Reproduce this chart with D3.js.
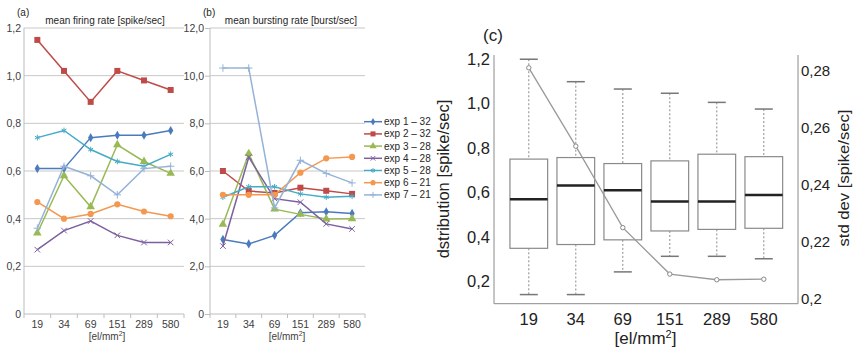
<!DOCTYPE html>
<html>
<head>
<meta charset="utf-8">
<script src="https://cdn.jsdelivr.net/npm/d3@7"></script>
<style>
  body { margin: 0; background: #fff; }
  svg { display: block; font-family: "Liberation Sans", Arial, sans-serif; }
</style>
</head>
<body>
<div id="chart"></div>
<script>
// categories (electrode density)
const categories = ["19", "34", "69", "151", "289", "580"];
const seriesNames = ["exp 1 – 32", "exp 2 – 32", "exp 3 – 28", "exp 4 – 28", "exp 5 – 28", "exp 6 – 21", "exp 7 – 21"];
const seriesColors = ["#4A7BBE", "#BE4B48", "#98B954", "#7D60A0", "#46AAC5", "#F4974F", "#95B3D7"];

// (a) mean firing rate [spike/sec]
const firingExp1 = [0.61, 0.61, 0.74, 0.75, 0.75, 0.77];
const firingExp2 = [1.15, 1.02, 0.89, 1.02, 0.98, 0.94];
const firingExp3 = [0.34, 0.58, 0.45, 0.71, 0.64, 0.59];
const firingExp4 = [0.27, 0.35, 0.39, 0.33, 0.30, 0.30];
const firingExp5 = [0.74, 0.77, 0.69, 0.64, 0.62, 0.67];
const firingExp6 = [0.47, 0.40, 0.42, 0.46, 0.43, 0.41];
const firingExp7 = [0.36, 0.62, 0.58, 0.50, 0.61, 0.62];

// (b) mean bursting rate [burst/sec]
const burstExp1 = [3.13, 2.94, 3.30, 4.25, 4.29, 4.22];
const burstExp2 = [6.00, 5.16, 5.08, 5.30, 5.17, 5.04];
const burstExp3 = [3.76, 6.73, 4.40, 4.18, 3.99, 4.00];
const burstExp4 = [2.85, 6.58, 4.84, 4.69, 3.78, 3.57];
const burstExp5 = [4.90, 5.34, 5.34, 5.04, 4.90, 4.94];
const burstExp6 = [5.00, 5.00, 5.00, 5.93, 6.53, 6.59];
const burstExp7 = [10.32, 10.32, 4.45, 6.45, 5.90, 5.50];

const firingTicks = [0, 0.2, 0.4, 0.6, 0.8, 1.0, 1.2];
const burstTicks = [0, 2, 4, 6, 8, 10, 12];

// (c) distribution boxplots + std dev
const boxHigh = [1.199, 1.098, 1.065, 1.046, 1.005, 0.975];
const boxQ3 = [0.750, 0.757, 0.730, 0.742, 0.772, 0.761];
const boxMedian = [0.569, 0.631, 0.610, 0.559, 0.559, 0.589];
const boxQ1 = [0.349, 0.366, 0.387, 0.427, 0.434, 0.439];
const boxLow = [0.141, 0.141, 0.243, 0.313, 0.313, 0.302];
const stdDev = [0.2809, 0.2534, 0.2248, 0.2085, 0.2065, 0.2067];
const distTicks = [0.2, 0.4, 0.6, 0.8, 1.0, 1.2];
const stdTicks = [0.2, 0.22, 0.24, 0.26, 0.28];

const firing = [firingExp1, firingExp2, firingExp3, firingExp4, firingExp5, firingExp6, firingExp7];
const burst = [burstExp1, burstExp2, burstExp3, burstExp4, burstExp5, burstExp6, burstExp7];

const W = 855, H = 348;
const svg = d3.select("#chart").append("svg").attr("width", W).attr("height", H);

const comma = (f) => (d) => d === 0 ? "0" : d3.format(f)(d).replace(".", ",");

const symbolTypes = [d3.symbolDiamond, d3.symbolSquare, d3.symbolTriangle, d3.symbolX,
  d3.symbolAsterisk, d3.symbolCircle, d3.symbolPlus];
const symbolSizes = [24, 36, 32, 22, 22, 30, 20];
const strokeOnly = [false, false, false, true, true, false, true];

function linePanel(opt) {
  const x = d3.scaleBand().domain(categories).range([opt.x0, opt.x1]);
  const y = d3.scaleLinear().domain(opt.domain).range([314, 28]);
  const cx = (c) => x(c) + x.bandwidth() / 2;
  const g = svg.append("g");

  // gridlines
  g.append("g").selectAll("line").data(opt.ticks.slice(1)).join("line")
    .attr("x1", opt.x0).attr("x2", opt.x1)
    .attr("y1", d => y(d)).attr("y2", d => y(d))
    .attr("stroke", "#c8c8c8").attr("stroke-width", 1);

  const yAxis = g.append("g").attr("transform", `translate(${opt.x0},0)`)
    .call(d3.axisLeft(y).tickValues(opt.ticks).tickSize(opt.tick).tickPadding(opt.pad).tickFormat(comma(opt.fmt)));
  yAxis.select(".domain").attr("stroke", "#bdbdbd").attr("d", `M0,${y(0)}V${y(opt.domain[1])}`);
  yAxis.selectAll(".tick line").attr("stroke", "#bdbdbd");
  yAxis.selectAll("text").attr("font-size", 10.5).attr("fill", "#404040");

  const xAxis = g.append("g").attr("transform", "translate(0,314)");
  xAxis.append("line").attr("x1", opt.x0).attr("x2", opt.x1).attr("stroke", "#bdbdbd");
  xAxis.selectAll("line.tk").data(categories.concat(["end"])).join("line").attr("class", "tk")
    .attr("x1", (d, i) => i < categories.length ? x(d) : opt.x1)
    .attr("x2", (d, i) => i < categories.length ? x(d) : opt.x1)
    .attr("y1", 0).attr("y2", 4).attr("stroke", "#bdbdbd");
  xAxis.selectAll("text").data(categories).join("text")
    .attr("x", d => cx(d)).attr("y", 14).attr("text-anchor", "middle")
    .attr("font-size", 10.5).attr("fill", "#404040").text(d => d);

  const lab = g.append("text").attr("x", opt.labelX).attr("y", 339.5)
    .attr("text-anchor", "middle").attr("font-size", 10).attr("fill", "#404040");
  lab.append("tspan").text("[el/mm");
  lab.append("tspan").attr("font-size", 7).attr("dy", -4).text("2");
  lab.append("tspan").attr("dy", 4).text("]");

  g.append("text").attr("x", opt.titleX).attr("y", 24).attr("text-anchor", "middle")
    .attr("font-size", 10).attr("fill", "#262626").text(opt.title);
  g.append("text").attr("x", opt.tagX).attr("y", 15.5)
    .attr("font-size", 10).attr("fill", "#262626").text(opt.tag);

  const line = d3.line().x((d, i) => cx(categories[i])).y(d => y(d));
  opt.data.forEach((vals, s) => {
    const sg = g.append("g");
    sg.append("path").attr("d", line(vals)).attr("fill", "none")
      .attr("stroke", seriesColors[s]).attr("stroke-width", 1.5);
    sg.selectAll("path.m").data(vals).join("path").attr("class", "m")
      .attr("transform", (d, i) => `translate(${cx(categories[i])},${y(d)})`)
      .attr("d", d3.symbol().type(symbolTypes[s]).size(symbolSizes[s]))
      .attr("fill", strokeOnly[s] ? "none" : seriesColors[s])
      .attr("stroke", seriesColors[s]).attr("stroke-width", strokeOnly[s] ? 1 : 0);
  });
}

linePanel({ x0: 24, x1: 184, domain: [0, 1.2], ticks: firingTicks, fmt: ".1f", tick: 0, pad: 3,
  data: firing, title: "mean firing rate [spike/sec]", titleX: 105, tag: "(a)", tagX: 17, labelX: 107 });
linePanel({ x0: 210, x1: 365, domain: [0, 12], ticks: burstTicks, fmt: ".1f", tick: 5, pad: 1,
  data: burst, title: "mean bursting rate [burst/sec]", titleX: 291, tag: "(b)", tagX: 203, labelX: 287 });

// legend
const legend = svg.append("g").selectAll("g").data(seriesNames).join("g")
  .attr("transform", (d, i) => `translate(0,${121.7 + i * 12.2})`);
legend.append("line").attr("x1", 364).attr("x2", 382)
  .attr("stroke", (d, i) => seriesColors[i]).attr("stroke-width", 1.5);
legend.append("path").attr("transform", "translate(373,0)")
  .attr("d", (d, i) => d3.symbol().type(symbolTypes[i]).size(symbolSizes[i] * 0.7)())
  .attr("fill", (d, i) => strokeOnly[i] ? "none" : seriesColors[i])
  .attr("stroke", (d, i) => seriesColors[i]).attr("stroke-width", (d, i) => strokeOnly[i] ? 1 : 0);
legend.append("text").attr("x", 384).attr("y", 3.5).attr("font-size", 10)
  .attr("fill", "#262626").text(d => d);

// panel (c)
const xc = d3.scalePoint().domain(categories).range([528.8, 763.8]);
const yc = d3.scaleLinear().domain([0.1, 1.218]).range([303.7, 55]);
const ys = d3.scaleLinear().domain([0.1981, 0.2854]).range([303.7, 55]);
const gc = svg.append("g");
const axisColor = "#8a8a8a";
const boxW = 37.7;

const leftAx = gc.append("g").attr("transform", "translate(494,0)")
  .call(d3.axisLeft(yc).tickValues(distTicks).tickSize(0).tickPadding(4).tickFormat(comma(".1f")));
leftAx.select(".domain").attr("stroke", axisColor).attr("d", "M0,55V303.7");
leftAx.selectAll("text").attr("font-size", 16.5).attr("fill", "#222");

const rightAx = gc.append("g").attr("transform", "translate(798,0)")
  .call(d3.axisRight(ys).tickValues(stdTicks).tickSize(0).tickPadding(3)
    .tickFormat(d => d === 0.2 ? "0,2" : d3.format(".2f")(d).replace(".", ",")));
rightAx.select(".domain").attr("stroke", axisColor).attr("d", "M0,55V303.7");
rightAx.selectAll("text").attr("font-size", 15).attr("fill", "#222");

gc.append("line").attr("x1", 494).attr("x2", 798).attr("y1", 303.7).attr("y2", 303.7).attr("stroke", axisColor);
gc.append("g").selectAll("text").data(categories).join("text")
  .attr("x", d => xc(d)).attr("y", 325).attr("text-anchor", "middle")
  .attr("font-size", 16.5).attr("fill", "#222").text(d => d);

const labC = gc.append("text").attr("x", 645.5).attr("y", 344)
  .attr("text-anchor", "middle").attr("font-size", 17).attr("fill", "#222");
labC.append("tspan").text("[el/mm");
labC.append("tspan").attr("font-size", 11).attr("dy", -6).text("2");
labC.append("tspan").attr("dy", 6).text("]");

gc.append("text").attr("transform", "translate(449,179) rotate(-90)")
  .attr("text-anchor", "middle").attr("font-size", 16.5).attr("fill", "#222")
  .text("dstribution [spike/sec]");
gc.append("text").attr("transform", "translate(849,178) rotate(-90)")
  .attr("text-anchor", "middle").attr("font-size", 14).attr("fill", "#222")
  .attr("textLength", 137).attr("lengthAdjust", "spacingAndGlyphs")
  .text("std dev [spike/sec]");
gc.append("text").attr("x", 483).attr("y", 41).attr("font-size", 17).attr("fill", "#222").text("(c)");

const boxes = gc.append("g").selectAll("g").data(categories).join("g");
boxes.append("line").attr("x1", d => xc(d)).attr("x2", d => xc(d))
  .attr("y1", (d, i) => yc(boxHigh[i])).attr("y2", (d, i) => yc(boxQ3[i]))
  .attr("stroke", "#8a8a8a").attr("stroke-dasharray", "2,2");
boxes.append("line").attr("x1", d => xc(d)).attr("x2", d => xc(d))
  .attr("y1", (d, i) => yc(boxQ1[i])).attr("y2", (d, i) => yc(boxLow[i]))
  .attr("stroke", "#8a8a8a").attr("stroke-dasharray", "2,2");
boxes.append("line").attr("x1", d => xc(d) - 9).attr("x2", d => xc(d) + 9)
  .attr("y1", (d, i) => yc(boxHigh[i])).attr("y2", (d, i) => yc(boxHigh[i]))
  .attr("stroke", "#777").attr("stroke-width", 1.5);
boxes.append("line").attr("x1", d => xc(d) - 9).attr("x2", d => xc(d) + 9)
  .attr("y1", (d, i) => yc(boxLow[i])).attr("y2", (d, i) => yc(boxLow[i]))
  .attr("stroke", "#777").attr("stroke-width", 1.5);
boxes.append("rect").attr("x", d => xc(d) - boxW / 2).attr("width", boxW)
  .attr("y", (d, i) => yc(boxQ3[i])).attr("height", (d, i) => yc(boxQ1[i]) - yc(boxQ3[i]))
  .attr("fill", "#fff").attr("stroke", "#8a8a8a").attr("stroke-width", 1.2);
boxes.append("line").attr("x1", d => xc(d) - boxW / 2).attr("x2", d => xc(d) + boxW / 2)
  .attr("y1", (d, i) => yc(boxMedian[i])).attr("y2", (d, i) => yc(boxMedian[i]))
  .attr("stroke", "#222").attr("stroke-width", 2.5);

const sdLine = d3.line().x((d, i) => xc(categories[i])).y(d => ys(d));
gc.append("path").attr("d", sdLine(stdDev)).attr("fill", "none")
  .attr("stroke", "#9a9a9a").attr("stroke-width", 1.3);
gc.append("g").selectAll("circle").data(stdDev).join("circle")
  .attr("cx", (d, i) => xc(categories[i])).attr("cy", d => ys(d)).attr("r", 2.2)
  .attr("fill", "#fff").attr("stroke", "#888").attr("stroke-width", 1);
</script>
</body>
</html>
